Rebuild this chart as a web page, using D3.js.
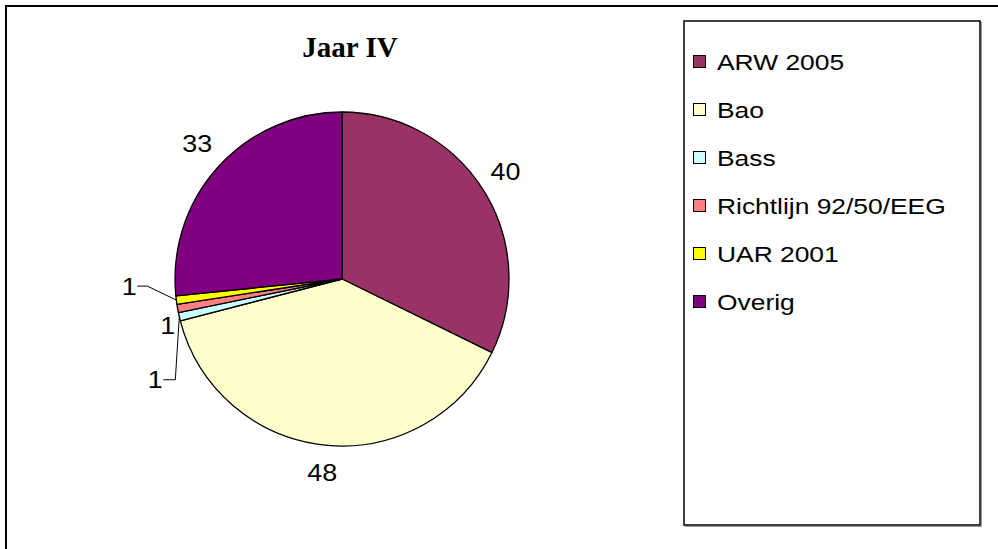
<!DOCTYPE html>
<html>
<head>
<meta charset="utf-8">
<script src="https://cdn.jsdelivr.net/npm/d3@7"></script>
<style>
  html, body { margin: 0; padding: 0; background: #fff; }
  svg { display: block; }
</style>
</head>
<body>
<svg id="chart" width="998" height="549"></svg>
<script>
// ---- data ----
const title = "Jaar IV";
const categories = ["ARW 2005", "Bao", "Bass", "Richtlijn 92/50/EEG", "UAR 2001", "Overig"];
const values = [40, 48, 1, 1, 1, 33];
const colors = ["#993366", "#FFFFCC", "#CCFFFF", "#FF8080", "#FFFF00", "#800080"];

// ---- layout ----
const W = 998, H = 549;
const cx = 342, cy = 279, R = 167;
const labelR = 195;
// label nudges for tiny slices (dx, dy relative to slice's outer point), leader flag
const smallLabel = {
  "Bass": { pos: [-24, 63], leader: true, hook: 12 },
  "Richtlijn 92/50/EEG": { pos: [-10, 17], leader: false },
  "UAR 2001": { pos: [-47, -14], leader: true, hook: 10 }
};

const svg = d3.select("#chart");

// outer border (extends beyond right/bottom of viewport)
svg.append("rect")
  .attr("x", 6).attr("y", 6).attr("width", 1200).attr("height", 1200)
  .attr("fill", "#fff").attr("stroke", "#000").attr("stroke-width", 2);

// title
svg.append("text")
  .attr("x", 350).attr("y", 57)
  .attr("text-anchor", "middle")
  .attr("font-family", "'Liberation Serif', 'Times New Roman', serif")
  .attr("font-weight", "bold")
  .attr("font-size", 29)
  .attr("fill", "#000")
  .text(title);

// pie
const data = categories.map((c, i) => ({ name: c, value: values[i], color: colors[i] }));
const pie = d3.pie().value(d => d.value).sort(null);
const arcs = pie(data);
const arc = d3.arc().innerRadius(0).outerRadius(R);

const g = svg.append("g").attr("transform", `translate(${cx},${cy})`);
g.selectAll("path.slice")
  .data(arcs)
  .join("path")
  .attr("class", "slice")
  .attr("d", arc)
  .attr("fill", d => d.data.color)
  .attr("stroke", "#000")
  .attr("stroke-width", 1.3)
  .attr("stroke-linejoin", "round");

function pointAt(angle, r) {
  return [r * Math.sin(angle), -r * Math.cos(angle)];
}

const labelFont = "'Liberation Sans', Arial, sans-serif";
arcs.forEach(d => {
  const mid = (d.startAngle + d.endAngle) / 2;
  const sl = smallLabel[d.data.name];
  let lx, ly;
  if (!sl) {
    [lx, ly] = pointAt(mid, labelR);
    if (d.data.name === "ARW 2005") { ly -= 4; lx -= 2; }
    if (d.data.name === "Overig") { ly -= 5; }
  } else {
    const [ox, oy] = pointAt(mid, R);
    lx = ox + sl.pos[0];
    ly = oy + sl.pos[1];
    if (sl.leader) {
      const sx = lx + 8;
      const hx = sx + sl.hook;
      g.append("path")
        .attr("d", `M${sx},${ly}L${hx},${ly}L${ox},${oy}`)
        .attr("fill", "none")
        .attr("stroke", "#000")
        .attr("stroke-width", 1);
    }
  }
  g.append("text")
    .attr("transform", `translate(${lx},${ly}) scale(1.12,1)`)
    .attr("text-anchor", "middle")
    .attr("dominant-baseline", "central")
    .attr("font-family", labelFont)
    .attr("font-size", 24)
    .attr("fill", "#000")
    .text(d.data.value);
});

// legend box
const lgX = 684, lgY = 21, lgW = 296, lgH = 504;
svg.append("rect")
  .attr("x", lgX + 1.5).attr("y", lgY + 1.5).attr("width", lgW).attr("height", lgH)
  .attr("fill", "none").attr("stroke", "#999").attr("stroke-width", 1);
svg.append("rect")
  .attr("x", lgX).attr("y", lgY).attr("width", lgW).attr("height", lgH)
  .attr("fill", "#fff").attr("stroke", "#000").attr("stroke-width", 1.5);

const legendY = d3.scalePoint().domain(categories).range([62, 302]);
const lg = svg.append("g");
const items = lg.selectAll("g.item").data(data).join("g")
  .attr("class", "item")
  .attr("transform", d => `translate(${lgX + 9},${legendY(d.name)})`);
items.append("rect")
  .attr("x", 0.5).attr("y", -6.5).attr("width", 12).attr("height", 12)
  .attr("fill", d => d.color).attr("stroke", "#000").attr("stroke-width", 1);
items.append("text")
  .attr("transform", "translate(24,0) scale(1.2,1)")
  .attr("dominant-baseline", "central")
  .attr("font-family", labelFont)
  .attr("font-size", 22)
  .attr("fill", "#000")
  .text(d => d.name);
</script>
</body>
</html>
